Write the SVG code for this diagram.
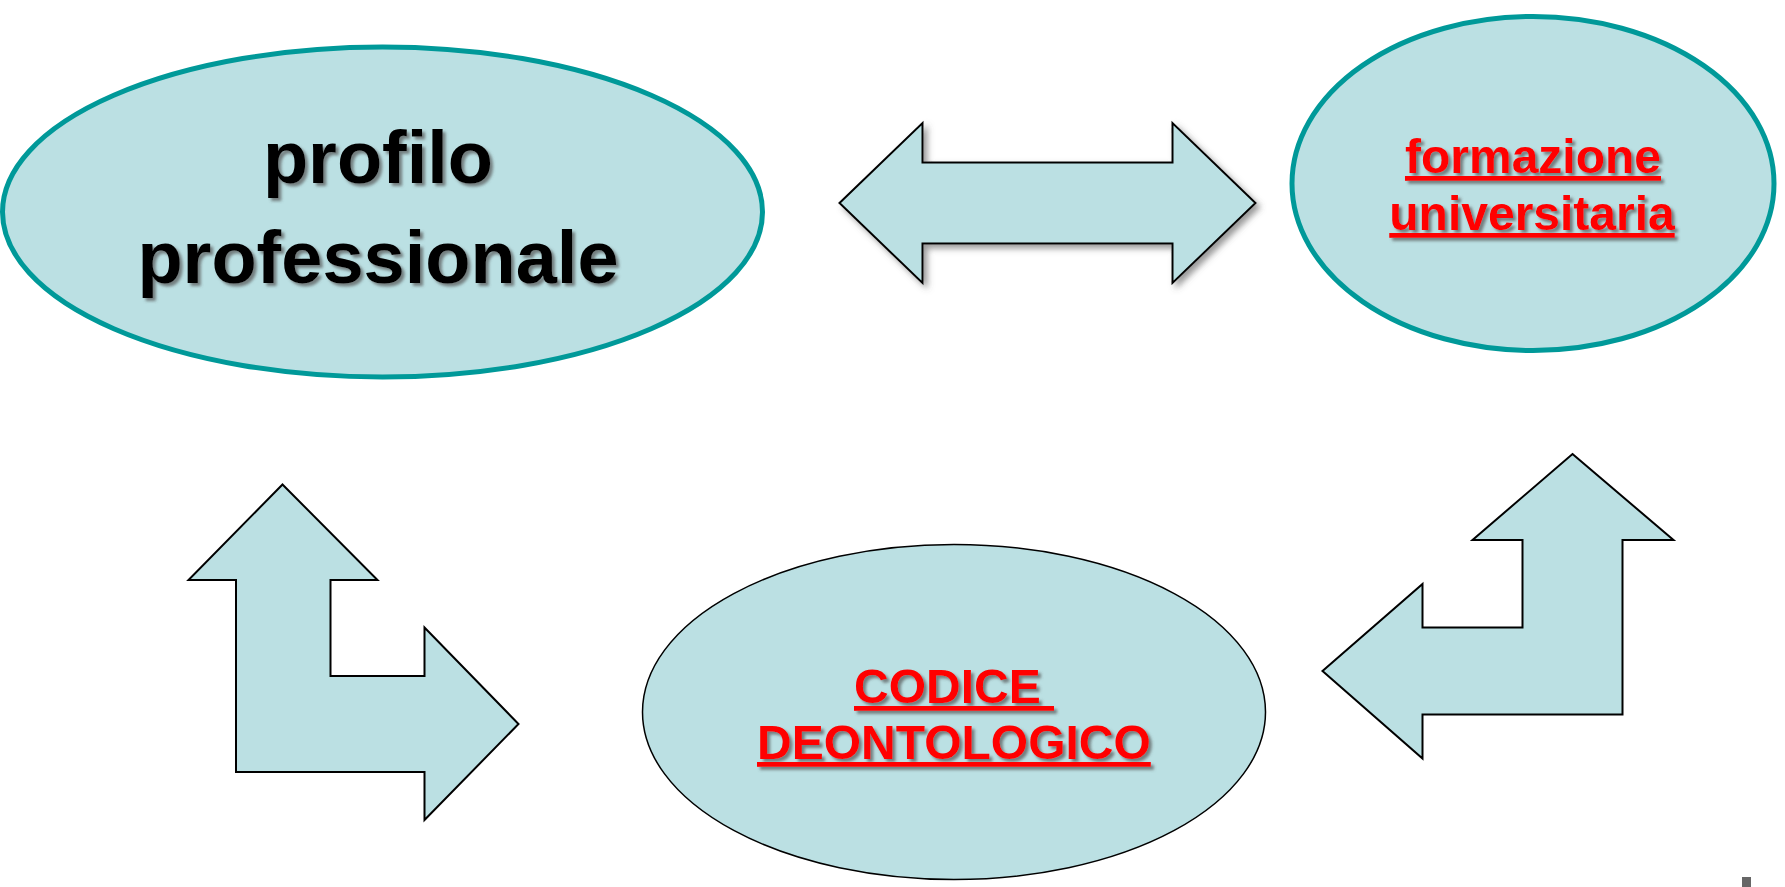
<svg xmlns="http://www.w3.org/2000/svg" width="1785" height="887" viewBox="0 0 1785 887">
<style>
.fill{fill:#BBE0E3}
.teal{stroke:#009999;stroke-width:5}
.thin{stroke:#000;stroke-width:1.5}
.arrow{fill:#BBE0E3;stroke:#000;stroke-width:2;stroke-linejoin:miter}
.black{font-family:"Liberation Sans",Arial,sans-serif;font-weight:bold;font-size:74px;fill:#000;text-anchor:middle}
.red{font-family:"Liberation Sans",Arial,sans-serif;font-weight:bold;font-size:48px;fill:#FF0000;text-decoration:underline}
</style>
<defs>
<filter id="tsh" x="-10%" y="-20%" width="130%" height="150%">
<feDropShadow dx="3" dy="3" stdDeviation="1.5" flood-color="#555" flood-opacity="0.7"/>
</filter>
<filter id="ash" x="-10%" y="-20%" width="130%" height="150%">
<feDropShadow dx="4" dy="4" stdDeviation="3" flood-color="#555" flood-opacity="0.6"/>
</filter>
</defs>
<g id="profilo">
<ellipse class="fill teal" cx="382.5" cy="212" rx="380" ry="165"/>
<text class="black" filter="url(#tsh)"><tspan x="378" y="183">profilo</tspan><tspan x="378" y="283">professionale</tspan></text>
</g>
<g id="formazione">
<ellipse class="fill teal" cx="1533" cy="183.5" rx="241" ry="167"/>
<text class="red" filter="url(#tsh)" text-anchor="middle"><tspan x="1533" y="173">formazione</tspan><tspan x="1532" y="230">universitaria</tspan></text>
</g>
<g id="codice">
<ellipse class="fill thin" cx="954" cy="712" rx="311.5" ry="167.5"/>
<text class="red" filter="url(#tsh)" xml:space="preserve" style="white-space:pre"><tspan x="854" y="703">CODICE </tspan><tspan x="757" y="759">DEONTOLOGICO</tspan></text>
</g>
<g id="connectors">
<path class="arrow" filter="url(#ash)" d="M839.5,203 L922.5,123 L922.5,162.5 L1172.5,162.5 L1172.5,123 L1255.5,203 L1172.5,283 L1172.5,243.5 L922.5,243.5 L922.5,283 Z"/>
<path class="arrow" d="M282.5,484.5 L377.5,580 L330.5,580 L330.5,676 L424.5,676 L424.5,627.5 L518.5,724 L424.5,820 L424.5,772 L236,772 L236,580 L188.5,580 Z"/>
<path class="arrow" d="M1572.5,454 L1673.5,540 L1622.5,540 L1622.5,714.5 L1422.5,714.5 L1422.5,758.5 L1322.5,671 L1422.5,584 L1422.5,627.5 L1522.5,627.5 L1522.5,540 L1472.5,540 Z"/>
</g>
<rect x="1742" y="877" width="9" height="10" fill="#666"/>
</svg>
